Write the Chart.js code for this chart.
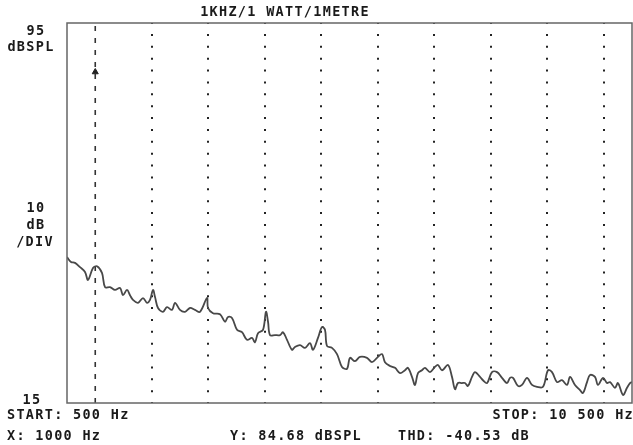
<!DOCTYPE html>
<html>
<head>
<meta charset="utf-8">
<script src="https://cdn.jsdelivr.net/npm/chart.js@4.4.0/dist/chart.umd.min.js"></script>
<style>
  html, body { margin: 0; padding: 0; background: #fff; }
  #wrap { width: 633px; height: 445px; position: relative; }
</style>
</head>
<body>
<div id="wrap"><canvas id="chart"></canvas></div>
<script>
const freqHz = [
  500, 571, 642, 730, 819, 872, 960, 1031, 1119, 1173, 1261, 1350, 1439, 1491, 1562, 1615, 1668, 1757, 1845, 1916,
  1969, 2022, 2058, 2111, 2199, 2270, 2358, 2412, 2500, 2588, 2677, 2765, 2854, 2978, 2996, 3084, 3208, 3296, 3350, 3420,
  3509, 3597, 3686, 3774, 3827, 3881, 3969, 4022, 4058, 4093, 4181, 4270, 4323, 4394, 4482, 4535, 4624, 4712, 4801, 4854,
  4942, 5013, 5066, 5102, 5190, 5279, 5367, 5456, 5509, 5597, 5686, 5810, 5898, 5987, 6075, 6128, 6217, 6305, 6394, 6482,
  6535, 6606, 6659, 6712, 6783, 6836, 6925, 7013, 7066, 7137, 7243, 7314, 7367, 7420, 7491, 7544, 7597, 7668, 7721, 7810,
  7863, 7934, 8022, 8111, 8199, 8288, 8341, 8394, 8482, 8553, 8642, 8730, 8819, 8925, 9013, 9084, 9173, 9261, 9350, 9403,
  9491, 9580, 9633, 9704, 9757, 9845, 9898, 9987, 10058, 10111, 10199, 10252, 10341, 10412, 10465, 10500
];
const levelDb = [
  45.7, 44.7, 44.5, 43.6, 42.6, 40.9, 43.4, 43.8, 42.4, 39.4, 39.4, 38.8, 39.2, 37.7, 38.8, 37.7, 36.7, 36.1, 37.1, 36.1,
  36.7, 38.8, 37.3, 35.0, 34.2, 35.2, 34.6, 36.1, 34.6, 34.2, 35.0, 34.6, 34.2, 37.1, 35.0, 33.9, 33.7, 32.1, 33.1, 32.9,
  30.4, 29.9, 28.3, 28.7, 27.8, 29.7, 30.4, 34.2, 32.1, 29.3, 29.3, 29.3, 29.9, 28.3, 26.2, 26.8, 27.2, 26.6, 27.6, 26.2,
  28.7, 31.0, 30.4, 27.0, 26.6, 25.3, 22.6, 22.2, 24.5, 23.8, 24.7, 24.5, 23.6, 24.5, 25.3, 23.6, 22.8, 22.4, 21.3, 21.9,
  22.4, 20.5, 18.8, 21.3, 21.9, 22.4, 21.5, 22.6, 23.0, 21.9, 23.0, 20.5, 17.9, 19.2, 19.2, 19.2, 18.6, 20.5, 21.5, 20.5,
  19.8, 19.2, 21.5, 21.5, 20.3, 19.2, 20.3, 20.3, 18.6, 18.8, 20.3, 18.8, 18.4, 18.4, 21.9, 21.5, 19.4, 19.8, 18.8, 20.5,
  18.8, 17.7, 17.1, 19.4, 20.9, 20.5, 18.8, 20.3, 19.2, 19.4, 18.2, 19.2, 16.7, 18.2, 19.2, 19.4
];
const gridHz = [1000, 2000, 3000, 4000, 5000, 6000, 7000, 8000, 9000, 10000];
const markerHz = 1000;
const markerDb = 84.68;
const yMin = 15, yMax = 95;
const xStart = 500, xStop = 10500;

// text around the frame: [text, x, y, align]
const texts = [
  ["1KHZ/1 WATT/1METRE", 285, 12, "center"],
  ["95", 36, 31, "center"],
  ["dBSPL", 31, 47, "center"],
  ["10", 36, 208, "center"],
  ["dB", 36, 225, "center"],
  ["/DIV", 35, 242, "center"],
  ["15", 32, 400, "center"],
  ["START: 500 Hz", 7, 415, "left"],
  ["STOP: 10 500 Hz", 634, 415, "right"],
  ["X: 1000 Hz", 7, 436, "left"],
  ["Y: 84.68 dBSPL", 230, 436, "left"],
  ["THD: -40.53 dB", 398, 436, "left"]
];

const framePlugin = {
  id: 'frame',
  afterDraw(chart) {
    const ctx = chart.ctx;
    const a = chart.chartArea;
    ctx.save();
    ctx.strokeStyle = '#666';
    ctx.lineWidth = 1.5;
    ctx.strokeRect(a.left, a.top, a.right - a.left, a.bottom - a.top);
    ctx.fillStyle = '#1a1a1a';
    ctx.font = 'bold 13.5px "DejaVu Sans Mono"';
    ctx.letterSpacing = '1.3px';
    ctx.textBaseline = 'middle';
    texts.forEach(t => {
      ctx.textAlign = t[3];
      ctx.fillText(t[0], t[1], t[2]);
    });
    ctx.restore();
  }
};

new Chart(document.getElementById('chart'), {
  type: 'line',
  data: {
    datasets: [
      {
        data: freqHz.map((f, i) => ({ x: f, y: levelDb[i] })),
        borderColor: '#484848',
        borderWidth: 1.8,
        pointRadius: 0,
        tension: 0.35
      },
      {
        data: [{ x: markerHz, y: yMin }, { x: markerHz, y: yMax }],
        borderColor: '#333',
        borderWidth: 1.6,
        borderDash: [5, 7],
        pointRadius: 0
      },
      {
        data: [{ x: markerHz, y: markerDb }],
        showLine: false,
        pointStyle: 'triangle',
        pointRadius: 3.5,
        backgroundColor: '#222',
        borderColor: '#222'
      }
    ]
  },
  options: {
    responsive: true,
    maintainAspectRatio: false,
    animation: false,
    layout: { autoPadding: false, padding: { left: 67, right: 1, top: 23, bottom: 42 } },
    plugins: { legend: { display: false }, tooltip: { enabled: false } },
    scales: {
      x: {
        type: 'linear',
        min: xStart,
        max: xStop,
        afterBuildTicks: scale => { scale.ticks = gridHz.map(v => ({ value: v })); },
        ticks: { display: false },
        grid: {
          drawTicks: false,
          lineWidth: 2,
          color: c => (c.tick && c.tick.value === markerHz) ? 'rgba(0,0,0,0)' : '#222'
        },
        border: { display: false, dash: [2, 9.875], dashOffset: 1 }
      },
      y: {
        display: false,
        min: yMin,
        max: yMax
      }
    }
  },
  plugins: [framePlugin]
});
</script>
</body>
</html>
